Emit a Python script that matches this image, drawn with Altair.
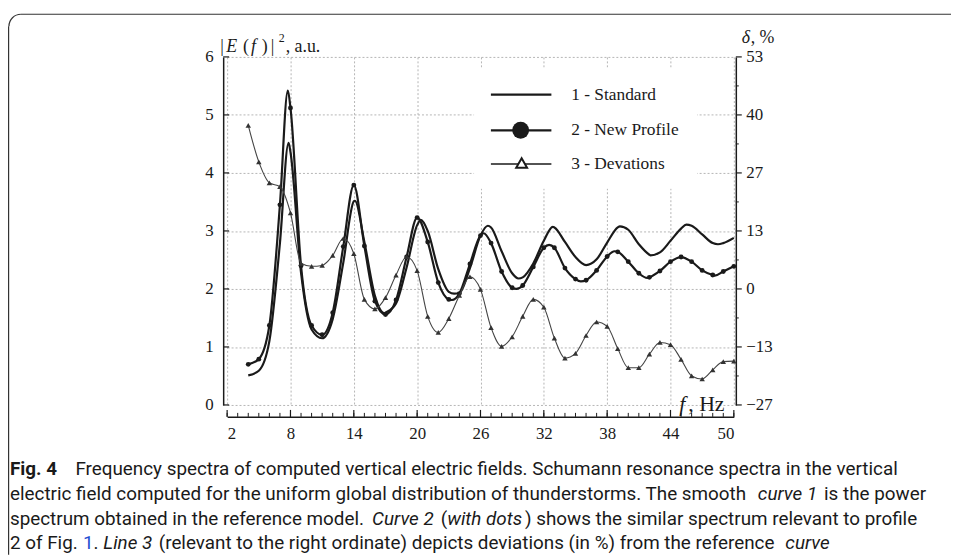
import altair as alt
import pandas as pd

# ---------------- data ----------------
freq = list(range(4, 51))  # Hz, sample points of the computed spectra

# curve 1 - Standard (left axis, a.u.)
standard = [0.51, 0.59, 1.10, 2.79, 4.36, 2.28, 1.30, 1.15, 1.48, 2.45,
            3.51, 2.81, 1.88, 1.59, 1.75, 2.37, 3.10, 3.00, 2.34, 1.95,
            1.93, 2.36, 2.92, 3.06, 2.65, 2.27, 2.20, 2.44, 2.83, 3.06,
            2.81, 2.55, 2.41, 2.51, 2.80, 3.06, 3.02, 2.77, 2.59, 2.63,
            2.83, 3.04, 3.09, 2.94, 2.79, 2.79, 2.88]
standard_peak_f = [7.82, 14.1, 16.9, 20.35, 23.5, 26.7, 29.6, 32.85, 39.2, 42.1, 45.5, 48.5]
standard_peak_v = [4.52, 3.52, 1.58, 3.19, 1.92, 3.09, 2.18, 3.07, 3.08, 2.58, 3.11, 2.77]

# curve 2 - New Profile (left axis, a.u.), dots at every Hz
profile = [0.70, 0.79, 1.37, 3.45, 5.12, 2.40, 1.37, 1.21, 1.59, 2.73,
           3.79, 2.74, 1.79, 1.56, 1.81, 2.55, 3.23, 2.81, 2.11, 1.82,
           1.92, 2.43, 2.92, 2.79, 2.30, 2.02, 2.06, 2.38, 2.71, 2.71,
           2.36, 2.17, 2.15, 2.32, 2.56, 2.64, 2.47, 2.27, 2.20, 2.31,
           2.47, 2.55, 2.47, 2.32, 2.24, 2.30, 2.39]
profile_peak_f = [7.75, 23.3, 26.3, 29.4, 32.5, 35.5, 38.7, 41.8, 48.2]
profile_peak_v = [5.42, 1.81, 2.96, 2.00, 2.76, 2.13, 2.65, 2.19, 2.23]

# curve 3 - Deviations (right axis, %)
deviation = [37.6, 29.2, 24.4, 23.5, 17.5, 5.9, 5.2, 5.4, 7.7, 11.6,
             8.1, -2.4, -4.6, -2.0, 3.2, 7.4, 4.2, -6.3, -10.0, -6.8,
             -1.5, 2.8, -0.1, -8.9, -13.2, -11.0, -6.3, -2.4, -4.2, -11.3,
             -15.9, -14.8, -10.7, -7.6, -8.6, -13.7, -18.1, -18.1, -15.0, -12.3,
             -12.8, -16.2, -20.0, -20.7, -18.6, -16.7, -16.6]

x_ticks = [2, 8, 14, 20, 26, 32, 38, 44, 50]
x_minor = list(range(2, 51))
left_ticks = [0, 1, 2, 3, 4, 5, 6]
right_lo, right_hi = -80 / 3, 160 / 3
right_major = [right_lo + k * 40 / 3 for k in range(7)]
right_minor = [right_lo + 20 / 3 + k * 40 / 3 for k in range(6)]

legend_labels = ["1 - Standard", "2 - New Profile", "3 - Devations"]

# caption: (text, style, colour) segments per line
caption_lines = [
    [("Frequency spectra of computed vertical electric fields. Schumann resonance spectra in the vertical", "normal", "ink")],
    [("electric field computed for the uniform global distribution of thunderstorms. The smooth ", "normal", "ink"),
     ("curve 1", "italic", "ink"), (" is the power", "normal", "ink")],
    [("spectrum obtained in the reference model. ", "normal", "ink"), ("Curve 2", "italic", "ink"),
     (" (", "normal", "ink"), ("with dots", "italic", "ink"),
     (") shows the similar spectrum relevant to profile", "normal", "ink")],
    [("2 of Fig. ", "normal", "ink"), ("1", "normal", "link"), (". ", "normal", "ink"),
     ("Line 3", "italic", "ink"),
     (" (relevant to the right ordinate) depicts deviations (in %) from the reference ", "normal", "ink"),
     ("curve", "italic", "ink")],
]

# ---------------- tables ----------------
df1 = pd.DataFrame({"f": freq + standard_peak_f, "v": standard + standard_peak_v}).sort_values("f")
df2_line = pd.DataFrame({"f": freq + profile_peak_f, "v": profile + profile_peak_v}).sort_values("f")
df2_dots = pd.DataFrame({"f": freq, "v": profile})
df3 = pd.DataFrame({"f": freq, "d": deviation})

SERIF = "Liberation Serif"
SANS = "Roboto"
INK = "#1a1a1a"
W, H = 511, 351
OX, OY = 229, 55  # page position of the plot origin

X_SCALE = alt.Scale(domain=[2, 50], nice=False, zero=False)
YL_SCALE = alt.Scale(domain=[0, 6], nice=False, zero=False)
YR_SCALE = alt.Scale(domain=[right_lo, right_hi], nice=False, zero=False)

x_axis = alt.Axis(values=x_ticks, title=None, offset=12, grid=True,
                  gridDash=[2, 2], gridColor="#b5b5b5", gridWidth=1,
                  domainColor=INK, domainWidth=1.5, ticks=False, tickSize=0,
                  labelPadding=9, labelFont=SERIF, labelFontSize=17,
                  labelColor=INK)
yl_axis = alt.Axis(values=left_ticks, orient="left", title=None, offset=4,
                   grid=True, gridDash=[2, 2], gridColor="#b5b5b5", gridWidth=1,
                   domainColor=INK, domainWidth=1.5, ticks=False, tickSize=0,
                   labelPadding=10, labelFont=SERIF, labelFontSize=17,
                   labelColor=INK)
yr_axis = alt.Axis(values=right_major, orient="right", title=None, offset=2,
                   grid=False, domainColor=INK, domainWidth=1.5,
                   ticks=False, tickSize=0, format=".0f",
                   labelPadding=10, labelFont=SERIF, labelFontSize=17,
                   labelColor=INK)


def fx():
    return alt.X("f:Q", scale=X_SCALE, axis=x_axis)


line1 = alt.Chart(df1).mark_line(color=INK, strokeWidth=2.2, interpolate="monotone").encode(
    x=fx(), y=alt.Y("v:Q", scale=YL_SCALE, axis=yl_axis))
line2 = alt.Chart(df2_line).mark_line(color=INK, strokeWidth=2.2, interpolate="monotone").encode(
    x=fx(), y=alt.Y("v:Q", scale=YL_SCALE, axis=None))
dots2 = alt.Chart(df2_dots).mark_point(shape="circle", filled=True, color=INK, size=24, opacity=1).encode(
    x=fx(), y=alt.Y("v:Q", scale=YL_SCALE, axis=None))
line3 = alt.Chart(df3).mark_line(color="#444444", strokeWidth=1.1, interpolate="monotone").encode(
    x=fx(), y=alt.Y("d:Q", scale=YR_SCALE, axis=yr_axis))
tri3 = alt.Chart(df3).mark_point(shape="triangle-up", filled=True, color="#333333", size=30, opacity=1).encode(
    x=fx(), y=alt.Y("d:Q", scale=YR_SCALE, axis=None))

# axis ticks drawn as rules (left: inward, bottom: upward, right: outward with minors)
lt = alt.Chart(pd.DataFrame({"v": left_ticks})).mark_rule(color=INK, strokeWidth=1.2).encode(
    y=alt.Y("v:Q", scale=YL_SCALE, axis=None), x=alt.value(-4), x2=alt.value(2))
rt_major = alt.Chart(pd.DataFrame({"d": right_major})).mark_rule(color=INK, strokeWidth=1.2).encode(
    y=alt.Y("d:Q", scale=YR_SCALE, axis=None), x=alt.value(W + 2), x2=alt.value(W + 8))
rt_minor = alt.Chart(pd.DataFrame({"d": right_minor})).mark_rule(color=INK, strokeWidth=1).encode(
    y=alt.Y("d:Q", scale=YR_SCALE, axis=None), x=alt.value(W + 2), x2=alt.value(W + 5))
xt_minor = alt.Chart(pd.DataFrame({"f": x_minor})).mark_rule(color=INK, strokeWidth=1).encode(
    x=fx(), y=alt.value(H + 12), y2=alt.value(H + 8))
xt_major = alt.Chart(pd.DataFrame({"f": x_ticks})).mark_rule(color=INK, strokeWidth=1.2).encode(
    x=fx(), y=alt.value(H + 12), y2=alt.value(H + 5))

one = pd.DataFrame({"k": [0]})


def px(x):
    return x - OX


def py(y):
    return y - OY


def txt(s, x, y, size=17, font=SERIF, style="normal", weight="normal", color=INK,
        align="left", baseline="alphabetic"):
    return alt.Chart(one).mark_text(text=s, font=font, fontSize=size, fontStyle=style,
                                    fontWeight=weight, color=color, align=align,
                                    baseline=baseline).encode(
        x=alt.value(px(x)), y=alt.value(py(y)))


# approximate Roboto advance widths (units per 2048 em) for laying caption segments side by side
ROBOTO_W = {" ": 507, "(": 700, ")": 712, ",": 393, "-": 553, ".": 539, "%": 1465,
            "A": 1336, "B": 1275, "C": 1333, "D": 1343, "E": 1164, "F": 1132, "G": 1395,
            "H": 1460, "I": 557, "L": 1103, "M": 1788, "N": 1460, "P": 1292, "R": 1261,
            "S": 1216, "T": 1221,
            "a": 1114, "b": 1149, "c": 1072, "d": 1155, "e": 1085, "f": 711, "g": 1149,
            "h": 1128, "i": 497, "j": 489, "k": 1037, "l": 497, "m": 1796, "n": 1130,
            "o": 1168, "p": 1149, "q": 1164, "r": 694, "s": 1056, "t": 669, "u": 1129,
            "v": 992, "w": 1538, "x": 1014, "y": 969, "z": 1015}


def text_width(s, size):
    return sum(ROBOTO_W.get(ch, 1150) for ch in s) / 2048 * size * 1.008


# ---------------- legend ----------------
leg_layers = [alt.Chart(one).mark_rect(color="white").encode(
    x=alt.value(px(478)), x2=alt.value(px(703)), y=alt.value(py(66)), y2=alt.value(py(188)))]
leg_y = [93, 129, 163]
leg_w = [2.2, 2.2, 1.3]
for yy, ww in zip(leg_y, leg_w):
    leg_layers.append(alt.Chart(one).mark_rule(color=INK, strokeWidth=ww).encode(
        x=alt.value(px(495)), x2=alt.value(px(556)), y=alt.value(py(yy))))
leg_layers.append(alt.Chart(one).mark_point(shape="circle", filled=True, color=INK, size=290, opacity=1).encode(
    x=alt.value(px(525)), y=alt.value(py(129))))
leg_layers.append(alt.Chart(one).mark_point(shape="triangle-up", filled=True, fill="white", stroke=INK,
                                            strokeWidth=2, size=120, opacity=1).encode(
    x=alt.value(px(526)), y=alt.value(py(162))))
for lab, yy in zip(legend_labels, leg_y):
    leg_layers.append(txt(lab, 576, yy, size=17.5, baseline="middle"))

# ---------------- axis titles ----------------
titles = [
    txt("|", 222, 50, 18), txt("E", 228, 50, 18, style="italic"), txt("(", 245, 50, 18),
    txt("f", 253, 50, 18, style="italic"), txt(")", 264, 50, 18), txt("|", 273, 50, 18),
    txt("2", 281, 40, 12), txt(", a.u.", 288, 50, 18),
    txt("δ", 748, 41, 18, style="italic"), txt(", %", 757, 41, 18),
    txt("f", 685, 412, 22, style="italic"), txt(", Hz", 694, 412, 22),
]

# ---------------- caption ----------------
CS = 19
cap = [txt("Fig. 4", 10, 477, CS, SANS, weight="bold")]
line_starts = [76, 10, 10, 10]
line_base = [477, 502, 527, 551]
for segs, x0, yb in zip(caption_lines, line_starts, line_base):
    x = x0
    for s, style, col in segs:
        lead = len(s) - len(s.lstrip(" "))
        xs = x + text_width(" " * lead, CS)
        cap.append(txt(s.strip(" "), xs, yb, CS, SANS, style=style,
                       color="#1f4fd1" if col == "link" else INK))
        x += text_width(s, CS)

# ---------------- frame ----------------
frame = [
    alt.Chart(one).mark_rule(color="#333333", strokeWidth=1.2).encode(
        x=alt.value(px(21)), x2=alt.value(px(959)), y=alt.value(py(12))),
    alt.Chart(one).mark_rule(color="#333333", strokeWidth=1.2).encode(
        x=alt.value(px(8.6)), y=alt.value(py(24)), y2=alt.value(py(557))),
    alt.Chart(one).mark_arc(color="#333333", radius=12.6, radius2=11.4,
                            theta=4.712, theta2=6.2832).encode(
        x=alt.value(px(21)), y=alt.value(py(24))),
]

chart = alt.layer(
    line1, line2, dots2, line3, tri3, lt, rt_major, rt_minor, xt_minor, xt_major,
    *leg_layers, *titles, *cap, *frame
).resolve_scale(y="independent").properties(
    width=W, height=H,
    autosize=alt.AutoSizeParams(type="none"),
    padding={"left": OX - 8, "top": OY - 8, "right": 951 - (OX - 8) - W, "bottom": 549 - (OY - 8) - H},
).configure_view(stroke=None)

chart.save("out.html", embed_options={"renderer": "svg", "actions": False})
